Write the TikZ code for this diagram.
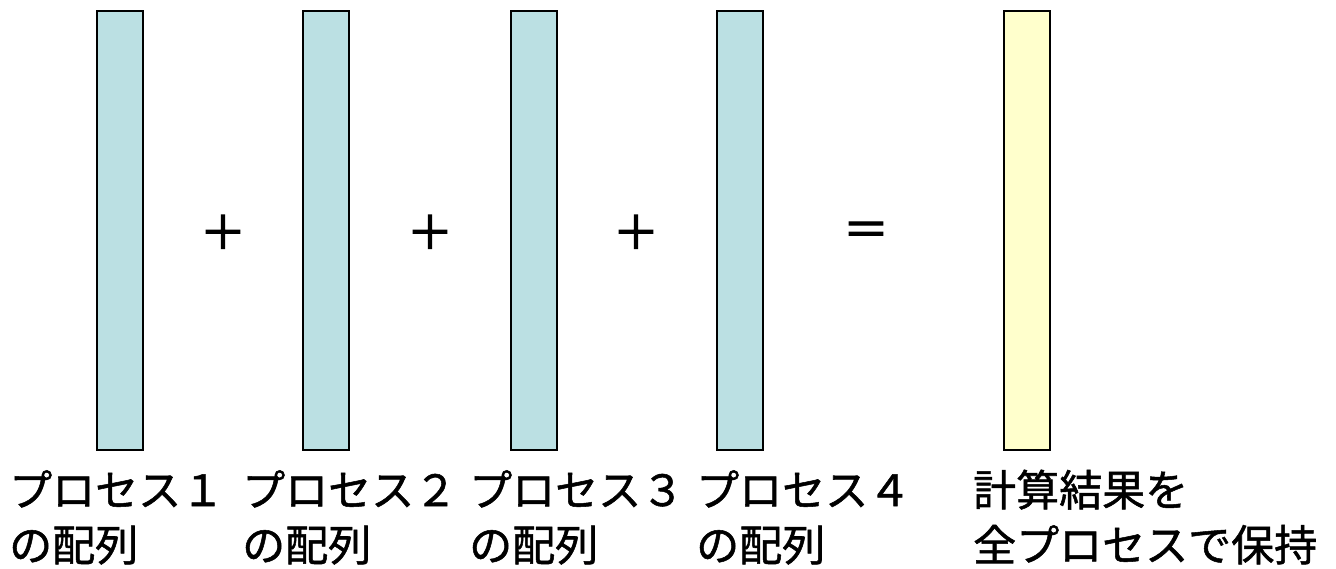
\documentclass[tikz,border=0pt]{standalone}
\usepackage{fontspec}
\newfontfamily\jp[FakeBold=1.2]{Noto Sans CJK JP}
\newfontfamily\jpop[FakeBold=2.5]{Noto Sans CJK JP}
\definecolor{barblue}{HTML}{BBE0E3}
\definecolor{baryellow}{HTML}{FFFFCC}
\begin{document}
\begin{tikzpicture}[x=1pt,y=-1pt,
  bar/.style={draw=black,line width=1.5pt},
  lbl/.style={anchor=base west,inner sep=0pt,align=left,font=\jp\fontsize{43}{55}\selectfont},
  op/.style={inner sep=0pt,font=\jpop\fontsize{46}{50}\selectfont}]
\useasboundingbox (0,0) rectangle (1336,568);
\draw[bar,fill=barblue] (97,11) rectangle (143,450);
\draw[bar,fill=barblue] (303,11) rectangle (349,450);
\draw[bar,fill=barblue] (511,11) rectangle (557,450);
\draw[bar,fill=barblue] (717,11) rectangle (763,450);
\draw[bar,fill=baryellow] (1004,11) rectangle (1050,450);
\node[op] (p1) at (223,232) {＋};
\node[op] (p2) at (430,232) {＋};
\node[op] (p3) at (636,232) {＋};
\node[op] (eq) at (866,234) {＝};
\node[lbl] (l1) at (9,561) {プロセス１\\の配列};
\node[lbl] (l2) at (242,561) {プロセス２\\の配列};
\node[lbl] (l3) at (469,561) {プロセス３\\の配列};
\node[lbl] (l4) at (696,561) {プロセス４\\の配列};
\node[lbl] (l5) at (973,561) {計算結果を\\全プロセスで保持};
\end{tikzpicture}
\end{document}
